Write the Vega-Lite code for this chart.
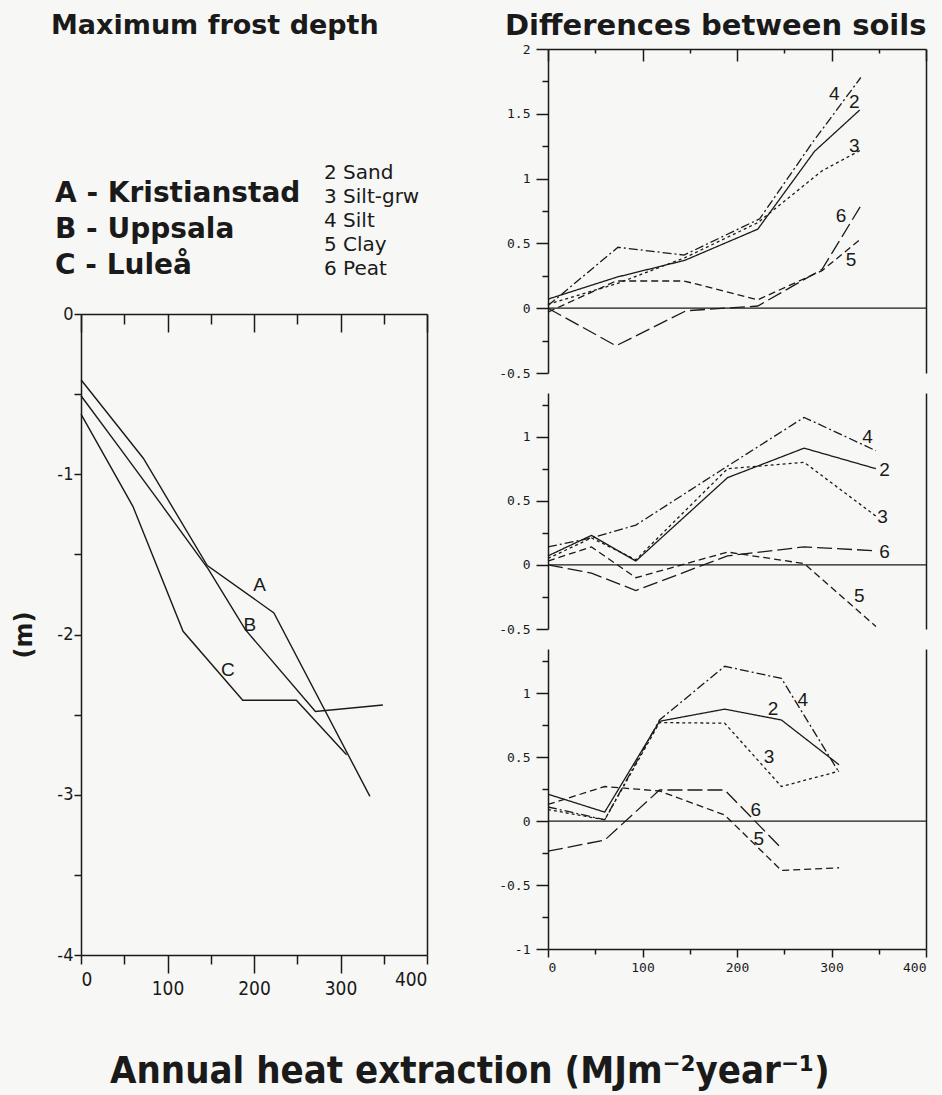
{
  "$schema": "https://vega.github.io/schema/vega-lite/v6.json",
  "background": "#f7f7f5",
  "padding": {"left": 12, "top": 12, "right": 14, "bottom": 6},
  "spacing": 70,
  "config": {
    "view": {"stroke": null},
    "axis": {
      "grid": false,
      "domainColor": "#1a1a1a",
      "tickColor": "#1a1a1a",
      "labelColor": "#1a1a1a",
      "titleColor": "#1a1a1a",
      "domainWidth": 1.5,
      "tickWidth": 1.5
    },
    "text": {"color": "#1a1a1a"},
    "title": {"color": "#1a1a1a"}
  },
  "datasets": {
    "sites": [
      {"list": "site", "label": "A - Kristianstad"},
      {"list": "site", "label": "B - Uppsala"},
      {"list": "site", "label": "C - Luleå"}
    ],
    "soilnames": [
      {"list": "soil", "label": "2 Sand"},
      {"list": "soil", "label": "3 Silt-grw"},
      {"list": "soil", "label": "4 Silt"},
      {"list": "soil", "label": "5 Clay"},
      {"list": "soil", "label": "6 Peat"}
    ],
    "frost": [
      {"site": "A", "heat": 0, "depth": -0.41},
      {"site": "A", "heat": 72, "depth": -0.9},
      {"site": "A", "heat": 146, "depth": -1.57},
      {"site": "A", "heat": 223, "depth": -1.865},
      {"site": "A", "heat": 334, "depth": -3.01},
      {"site": "B", "heat": 0, "depth": -0.51},
      {"site": "B", "heat": 46, "depth": -0.845},
      {"site": "B", "heat": 93, "depth": -1.19},
      {"site": "B", "heat": 147, "depth": -1.59},
      {"site": "B", "heat": 190, "depth": -1.97},
      {"site": "B", "heat": 271, "depth": -2.48},
      {"site": "B", "heat": 349, "depth": -2.44},
      {"site": "C", "heat": 0, "depth": -0.625},
      {"site": "C", "heat": 60, "depth": -1.2},
      {"site": "C", "heat": 118, "depth": -1.98},
      {"site": "C", "heat": 187, "depth": -2.41},
      {"site": "C", "heat": 249, "depth": -2.41},
      {"site": "C", "heat": 307, "depth": -2.75}
    ],
    "frostLabels": [
      {"site": "A", "heat": 206.6, "depth": -1.69},
      {"site": "B", "heat": 195.3, "depth": -1.94},
      {"site": "C", "heat": 169.9, "depth": -2.22}
    ],
    "soils": [
      {"site": "A", "soil": "2", "heat": 0, "diff": 0.07},
      {"site": "A", "soil": "2", "heat": 73, "diff": 0.24},
      {"site": "A", "soil": "2", "heat": 145, "diff": 0.37},
      {"site": "A", "soil": "2", "heat": 222, "diff": 0.61},
      {"site": "A", "soil": "2", "heat": 282, "diff": 1.21},
      {"site": "A", "soil": "2", "heat": 330, "diff": 1.53},
      {"site": "A", "soil": "3", "heat": 0, "diff": 0.03},
      {"site": "A", "soil": "3", "heat": 73, "diff": 0.19},
      {"site": "A", "soil": "3", "heat": 145, "diff": 0.39},
      {"site": "A", "soil": "3", "heat": 222, "diff": 0.66},
      {"site": "A", "soil": "3", "heat": 290, "diff": 1.06},
      {"site": "A", "soil": "3", "heat": 331, "diff": 1.22},
      {"site": "A", "soil": "4", "heat": 0, "diff": 0.02},
      {"site": "A", "soil": "4", "heat": 74, "diff": 0.47},
      {"site": "A", "soil": "4", "heat": 144, "diff": 0.41},
      {"site": "A", "soil": "4", "heat": 224, "diff": 0.69},
      {"site": "A", "soil": "4", "heat": 280, "diff": 1.28},
      {"site": "A", "soil": "4", "heat": 331, "diff": 1.78},
      {"site": "A", "soil": "5", "heat": 0, "diff": -0.03},
      {"site": "A", "soil": "5", "heat": 72, "diff": 0.21},
      {"site": "A", "soil": "5", "heat": 144, "diff": 0.21},
      {"site": "A", "soil": "5", "heat": 222, "diff": 0.065},
      {"site": "A", "soil": "5", "heat": 290, "diff": 0.29},
      {"site": "A", "soil": "5", "heat": 331, "diff": 0.535},
      {"site": "A", "soil": "6", "heat": 0, "diff": 0},
      {"site": "A", "soil": "6", "heat": 72, "diff": -0.29},
      {"site": "A", "soil": "6", "heat": 146, "diff": -0.02},
      {"site": "A", "soil": "6", "heat": 222, "diff": 0.017},
      {"site": "A", "soil": "6", "heat": 290, "diff": 0.3},
      {"site": "A", "soil": "6", "heat": 331, "diff": 0.79},
      {"site": "B", "soil": "2", "heat": 0, "diff": 0.07},
      {"site": "B", "soil": "2", "heat": 46, "diff": 0.23},
      {"site": "B", "soil": "2", "heat": 93, "diff": 0.03},
      {"site": "B", "soil": "2", "heat": 190, "diff": 0.68},
      {"site": "B", "soil": "2", "heat": 271, "diff": 0.91},
      {"site": "B", "soil": "2", "heat": 347, "diff": 0.75},
      {"site": "B", "soil": "3", "heat": 0, "diff": 0.05},
      {"site": "B", "soil": "3", "heat": 46, "diff": 0.21},
      {"site": "B", "soil": "3", "heat": 93, "diff": 0.04},
      {"site": "B", "soil": "3", "heat": 190, "diff": 0.75},
      {"site": "B", "soil": "3", "heat": 271, "diff": 0.8},
      {"site": "B", "soil": "3", "heat": 347, "diff": 0.38},
      {"site": "B", "soil": "4", "heat": 0, "diff": 0.14},
      {"site": "B", "soil": "4", "heat": 46, "diff": 0.21},
      {"site": "B", "soil": "4", "heat": 93, "diff": 0.31},
      {"site": "B", "soil": "4", "heat": 190, "diff": 0.77},
      {"site": "B", "soil": "4", "heat": 271, "diff": 1.15},
      {"site": "B", "soil": "4", "heat": 347, "diff": 0.89},
      {"site": "B", "soil": "5", "heat": 0, "diff": 0.03},
      {"site": "B", "soil": "5", "heat": 46, "diff": 0.14},
      {"site": "B", "soil": "5", "heat": 93, "diff": -0.1},
      {"site": "B", "soil": "5", "heat": 190, "diff": 0.1},
      {"site": "B", "soil": "5", "heat": 271, "diff": 0.01},
      {"site": "B", "soil": "5", "heat": 347, "diff": -0.48},
      {"site": "B", "soil": "6", "heat": 0, "diff": 0},
      {"site": "B", "soil": "6", "heat": 46, "diff": -0.065},
      {"site": "B", "soil": "6", "heat": 93, "diff": -0.2},
      {"site": "B", "soil": "6", "heat": 190, "diff": 0.07},
      {"site": "B", "soil": "6", "heat": 271, "diff": 0.14},
      {"site": "B", "soil": "6", "heat": 347, "diff": 0.11},
      {"site": "C", "soil": "2", "heat": 0, "diff": 0.21},
      {"site": "C", "soil": "2", "heat": 60, "diff": 0.07},
      {"site": "C", "soil": "2", "heat": 118, "diff": 0.78},
      {"site": "C", "soil": "2", "heat": 187, "diff": 0.875},
      {"site": "C", "soil": "2", "heat": 247, "diff": 0.79},
      {"site": "C", "soil": "2", "heat": 308, "diff": 0.44},
      {"site": "C", "soil": "3", "heat": 0, "diff": 0.09},
      {"site": "C", "soil": "3", "heat": 60, "diff": 0.01},
      {"site": "C", "soil": "3", "heat": 118, "diff": 0.77},
      {"site": "C", "soil": "3", "heat": 187, "diff": 0.765},
      {"site": "C", "soil": "3", "heat": 247, "diff": 0.27},
      {"site": "C", "soil": "3", "heat": 308, "diff": 0.39},
      {"site": "C", "soil": "4", "heat": 0, "diff": 0.11},
      {"site": "C", "soil": "4", "heat": 60, "diff": 0.01},
      {"site": "C", "soil": "4", "heat": 118, "diff": 0.79},
      {"site": "C", "soil": "4", "heat": 187, "diff": 1.21},
      {"site": "C", "soil": "4", "heat": 247, "diff": 1.115},
      {"site": "C", "soil": "4", "heat": 308, "diff": 0.38},
      {"site": "C", "soil": "5", "heat": 0, "diff": 0.13},
      {"site": "C", "soil": "5", "heat": 60, "diff": 0.27},
      {"site": "C", "soil": "5", "heat": 118, "diff": 0.235},
      {"site": "C", "soil": "5", "heat": 187, "diff": 0.047},
      {"site": "C", "soil": "5", "heat": 247, "diff": -0.386},
      {"site": "C", "soil": "5", "heat": 308, "diff": -0.365},
      {"site": "C", "soil": "6", "heat": 0, "diff": -0.235},
      {"site": "C", "soil": "6", "heat": 60, "diff": -0.149},
      {"site": "C", "soil": "6", "heat": 118, "diff": 0.243},
      {"site": "C", "soil": "6", "heat": 187, "diff": 0.243},
      {"site": "C", "soil": "6", "heat": 248, "diff": -0.22}
    ],
    "soilLabels": [
      {"site": "A", "soil": "4", "heat": 303, "diff": 1.65},
      {"site": "A", "soil": "2", "heat": 324, "diff": 1.59},
      {"site": "A", "soil": "3", "heat": 324, "diff": 1.25},
      {"site": "A", "soil": "6", "heat": 310, "diff": 0.71},
      {"site": "A", "soil": "5", "heat": 320.7, "diff": 0.37},
      {"site": "B", "soil": "4", "heat": 338, "diff": 1.0},
      {"site": "B", "soil": "2", "heat": 356, "diff": 0.74},
      {"site": "B", "soil": "3", "heat": 354, "diff": 0.37},
      {"site": "B", "soil": "6", "heat": 356, "diff": 0.1},
      {"site": "B", "soil": "5", "heat": 329.5, "diff": -0.24},
      {"site": "C", "soil": "2", "heat": 238, "diff": 0.875},
      {"site": "C", "soil": "4", "heat": 269.6, "diff": 0.95},
      {"site": "C", "soil": "3", "heat": 234, "diff": 0.5},
      {"site": "C", "soil": "6", "heat": 220, "diff": 0.086},
      {"site": "C", "soil": "5", "heat": 223, "diff": -0.14}
    ],
    "zero": [{"level": 0}]
  },
  "title": {
    "text": "Annual heat extraction  (MJm⁻²year⁻¹)",
    "orient": "bottom",
    "anchor": "middle",
    "font": "DejaVu Sans Condensed, Liberation Sans, sans-serif",
    "fontSize": 38,
    "fontWeight": "bold",
    "offset": 55
  },
  "hconcat": [
    {
      "bounds": "flush",
      "spacing": 0,
      "vconcat": [
        {
          "width": 346,
          "height": 265,
          "title": {
            "text": "Maximum frost depth",
            "anchor": "start",
            "frame": "group",
            "font": "DejaVu Sans",
            "fontWeight": "bold",
            "fontSize": 27,
            "dx": -30,
            "offset": 9
          },
          "layer": [
            {
              "data": {"name": "sites"},
              "mark": {"type": "text", "align": "left", "baseline": "alphabetic", "font": "DejaVu Sans", "fontWeight": "bold", "fontSize": 28},
              "encoding": {
                "text": {"field": "label"},
                "x": {"field": "list", "type": "nominal", "scale": {"type": "point", "domain": ["site", "soil"], "range": [-26, 243], "padding": 0}, "axis": null},
                "y": {"field": "label", "type": "nominal", "sort": null, "scale": {"type": "point", "range": [153, 225], "padding": 0}, "axis": null}
              }
            },
            {
              "data": {"name": "soilnames"},
              "mark": {"type": "text", "align": "left", "baseline": "alphabetic", "font": "DejaVu Sans", "fontSize": 20},
              "encoding": {
                "text": {"field": "label"},
                "x": {"field": "list", "type": "nominal", "scale": {"type": "point", "domain": ["site", "soil"], "range": [-26, 243], "padding": 0}, "axis": null},
                "y": {"field": "label", "type": "nominal", "sort": null, "scale": {"type": "point", "range": [130, 226], "padding": 0}, "axis": null}
              }
            }
          ],
          "resolve": {"scale": {"y": "independent"}}
        },
        {
          "width": 346,
          "height": 641,
          "layer": [
            {
              "data": {"name": "frost"},
              "mark": {"type": "line", "color": "#1a1a1a", "strokeWidth": 1.4},
              "encoding": {
                "x": {
                  "field": "heat", "type": "quantitative",
                  "scale": {"domain": [0, 400], "nice": false},
                  "axis": {
                    "orient": "bottom", "title": null,
                    "values": [0, 50, 100, 150, 200, 250, 300, 350, 400],
                    "labelExpr": "datum.value % 100 ? '' : '' + datum.value",
                    "tickSize": {"condition": {"test": "datum.value % 100 === 0 && datum.value > 0 && datum.value < 400", "value": 18}, "value": 9},
                    "labelFont": "DejaVu Sans Condensed, Liberation Sans, sans-serif", "labelFontSize": 19, "labelPadding": 6
                  }
                },
                "y": {
                  "field": "depth", "type": "quantitative",
                  "scale": {"domain": [-4, 0], "nice": false},
                  "axis": {
                    "orient": "left",
                    "values": [-4, -3.5, -3, -2.5, -2, -1.5, -1, -0.5, 0],
                    "labelExpr": "datum.value % 1 ? '' : '' + datum.value",
                    "tickSize": 7, "labelPadding": 1,
                    "labelFont": "DejaVu Sans Condensed, Liberation Sans, sans-serif", "labelFontSize": 18,
                    "title": "(m)", "titleFont": "DejaVu Sans", "titleFontWeight": "bold", "titleFontSize": 24, "titlePadding": 20
                  }
                },
                "detail": {"field": "site"}
              }
            },
            {
              "data": {"name": "frostLabels"},
              "mark": {"type": "text", "font": "Liberation Sans", "fontSize": 19, "align": "center", "baseline": "middle"},
              "encoding": {
                "x": {
                  "field": "heat", "type": "quantitative",
                  "axis": {
                    "orient": "top", "title": null, "labels": false,
                    "values": [0, 50, 100, 150, 200, 250, 300, 350, 400],
                    "tickSize": {"condition": {"test": "datum.value % 100 === 0", "value": -18}, "value": -10}
                  }
                },
                "y": {
                  "field": "depth", "type": "quantitative",
                  "axis": {"orient": "right", "title": null, "labels": false, "ticks": false}
                },
                "text": {"field": "site"}
              }
            }
          ],
          "resolve": {"axis": {"x": "independent", "y": "independent"}}
        }
      ]
    },
    {
      "bounds": "flush",
      "spacing": 20,
      "vconcat": [
        {
          "width": 378,
          "height": 324,
          "title": {
            "text": "Differences between soils",
            "anchor": "start",
            "frame": "group",
            "font": "DejaVu Sans",
            "fontWeight": "bold",
            "fontSize": 29,
            "dx": -43,
            "offset": 2
          },
          "layer": [
            {
              "data": {"name": "zero"},
              "mark": {"type": "rule", "color": "#1a1a1a", "strokeWidth": 1.3},
              "encoding": {"y": {"field": "level", "type": "quantitative", "axis": null}}
            },
            {
              "data": {"name": "soils"},
              "transform": [{"filter": "datum.site === 'A'"}],
              "mark": {"type": "line", "color": "#1a1a1a", "strokeWidth": 1.3},
              "encoding": {
                "x": {"field": "heat", "type": "quantitative", "scale": {"domain": [0, 400], "nice": false}, "axis": null},
                "y": {
                  "field": "diff", "type": "quantitative",
                  "scale": {"domain": [-0.5, 2], "nice": false},
                  "axis": {
                    "orient": "left", "title": null,
                    "values": [-0.5, -0.25, 0, 0.25, 0.5, 0.75, 1, 1.25, 1.5, 1.75, 2],
                    "labelExpr": "datum.value % 0.5 ? '' : '' + datum.value",
                    "tickSize": {"condition": {"test": "datum.value % 0.5 === 0", "value": 12}, "value": 6},
                    "labelFont": "DejaVu Sans Mono", "labelFontSize": 13, "labelPadding": 6
                  }
                },
                "strokeDash": {"field": "soil", "type": "nominal", "scale": {"domain": ["2", "3", "4", "5", "6"], "range": [[1, 0], [3, 3], [9, 3, 2, 3], [7, 4], [15, 5]]}, "legend": null},
                "detail": {"field": "soil"}
              }
            },
            {
              "data": {"name": "soilLabels"},
              "transform": [{"filter": "datum.site === 'A'"}],
              "mark": {"type": "text", "font": "Liberation Sans", "fontSize": 19, "align": "center", "baseline": "middle"},
              "encoding": {
                "x": {
                  "field": "heat", "type": "quantitative",
                  "axis": {
                    "orient": "top", "title": null, "labels": false,
                    "values": [0, 50, 100, 150, 200, 250, 300, 350, 400],
                    "tickSize": {"condition": {"test": "datum.value % 100 === 0", "value": -12}, "value": -4}
                  }
                },
                "y": {"field": "diff", "type": "quantitative", "axis": {"orient": "right", "title": null, "labels": false, "ticks": false}},
                "text": {"field": "soil"}
              }
            }
          ],
          "resolve": {"axis": {"x": "independent", "y": "independent"}}
        },
        {
          "width": 378,
          "height": 236,
          "layer": [
            {
              "data": {"name": "zero"},
              "mark": {"type": "rule", "color": "#1a1a1a", "strokeWidth": 1.3},
              "encoding": {"y": {"field": "level", "type": "quantitative", "axis": null}}
            },
            {
              "data": {"name": "soils"},
              "transform": [{"filter": "datum.site === 'B'"}],
              "mark": {"type": "line", "color": "#1a1a1a", "strokeWidth": 1.3},
              "encoding": {
                "x": {"field": "heat", "type": "quantitative", "scale": {"domain": [0, 400], "nice": false}, "axis": null},
                "y": {
                  "field": "diff", "type": "quantitative",
                  "scale": {"domain": [-0.5, 1.34], "nice": false},
                  "axis": {
                    "orient": "left", "title": null,
                    "values": [-0.5, -0.25, 0, 0.25, 0.5, 0.75, 1, 1.25],
                    "labelExpr": "datum.value % 0.5 ? '' : '' + datum.value",
                    "tickSize": {"condition": {"test": "datum.value % 0.5 === 0", "value": 12}, "value": 6},
                    "labelFont": "DejaVu Sans Mono", "labelFontSize": 13, "labelPadding": 6
                  }
                },
                "strokeDash": {"field": "soil", "type": "nominal", "scale": {"domain": ["2", "3", "4", "5", "6"], "range": [[1, 0], [3, 3], [9, 3, 2, 3], [7, 4], [15, 5]]}, "legend": null},
                "detail": {"field": "soil"}
              }
            },
            {
              "data": {"name": "soilLabels"},
              "transform": [{"filter": "datum.site === 'B'"}],
              "mark": {"type": "text", "font": "Liberation Sans", "fontSize": 19, "align": "center", "baseline": "middle"},
              "encoding": {
                "x": {"field": "heat", "type": "quantitative", "axis": null},
                "y": {"field": "diff", "type": "quantitative", "axis": {"orient": "right", "title": null, "labels": false, "ticks": false}},
                "text": {"field": "soil"}
              }
            }
          ],
          "resolve": {"axis": {"x": "independent", "y": "independent"}}
        },
        {
          "width": 378,
          "height": 300,
          "layer": [
            {
              "data": {"name": "zero"},
              "mark": {"type": "rule", "color": "#1a1a1a", "strokeWidth": 1.3},
              "encoding": {"y": {"field": "level", "type": "quantitative", "axis": null}}
            },
            {
              "data": {"name": "soils"},
              "transform": [{"filter": "datum.site === 'C'"}],
              "mark": {"type": "line", "color": "#1a1a1a", "strokeWidth": 1.3},
              "encoding": {
                "x": {
                  "field": "heat", "type": "quantitative",
                  "scale": {"domain": [0, 400], "nice": false},
                  "axis": {
                    "orient": "bottom", "title": null,
                    "values": [0, 50, 100, 150, 200, 250, 300, 350, 400],
                    "labelExpr": "datum.value % 100 ? '' : '' + datum.value",
                    "tickSize": {"condition": {"test": "datum.value % 100 === 0", "value": 8}, "value": 5},
                    "labelFont": "DejaVu Sans Mono", "labelFontSize": 13, "labelPadding": 4
                  }
                },
                "y": {
                  "field": "diff", "type": "quantitative",
                  "scale": {"domain": [-1, 1.345], "nice": false},
                  "axis": {
                    "orient": "left", "title": null,
                    "values": [-1, -0.75, -0.5, -0.25, 0, 0.25, 0.5, 0.75, 1, 1.25],
                    "labelExpr": "datum.value % 0.5 ? '' : '' + datum.value",
                    "tickSize": {"condition": {"test": "datum.value % 0.5 === 0", "value": 12}, "value": 6},
                    "labelFont": "DejaVu Sans Mono", "labelFontSize": 13, "labelPadding": 6
                  }
                },
                "strokeDash": {"field": "soil", "type": "nominal", "scale": {"domain": ["2", "3", "4", "5", "6"], "range": [[1, 0], [3, 3], [9, 3, 2, 3], [7, 4], [15, 5]]}, "legend": null},
                "detail": {"field": "soil"}
              }
            },
            {
              "data": {"name": "soilLabels"},
              "transform": [{"filter": "datum.site === 'C'"}],
              "mark": {"type": "text", "font": "Liberation Sans", "fontSize": 19, "align": "center", "baseline": "middle"},
              "encoding": {
                "x": {"field": "heat", "type": "quantitative", "axis": null},
                "y": {"field": "diff", "type": "quantitative", "axis": {"orient": "right", "title": null, "labels": false, "ticks": false}},
                "text": {"field": "soil"}
              }
            }
          ],
          "resolve": {"axis": {"x": "independent", "y": "independent"}}
        }
      ]
    }
  ]
}
